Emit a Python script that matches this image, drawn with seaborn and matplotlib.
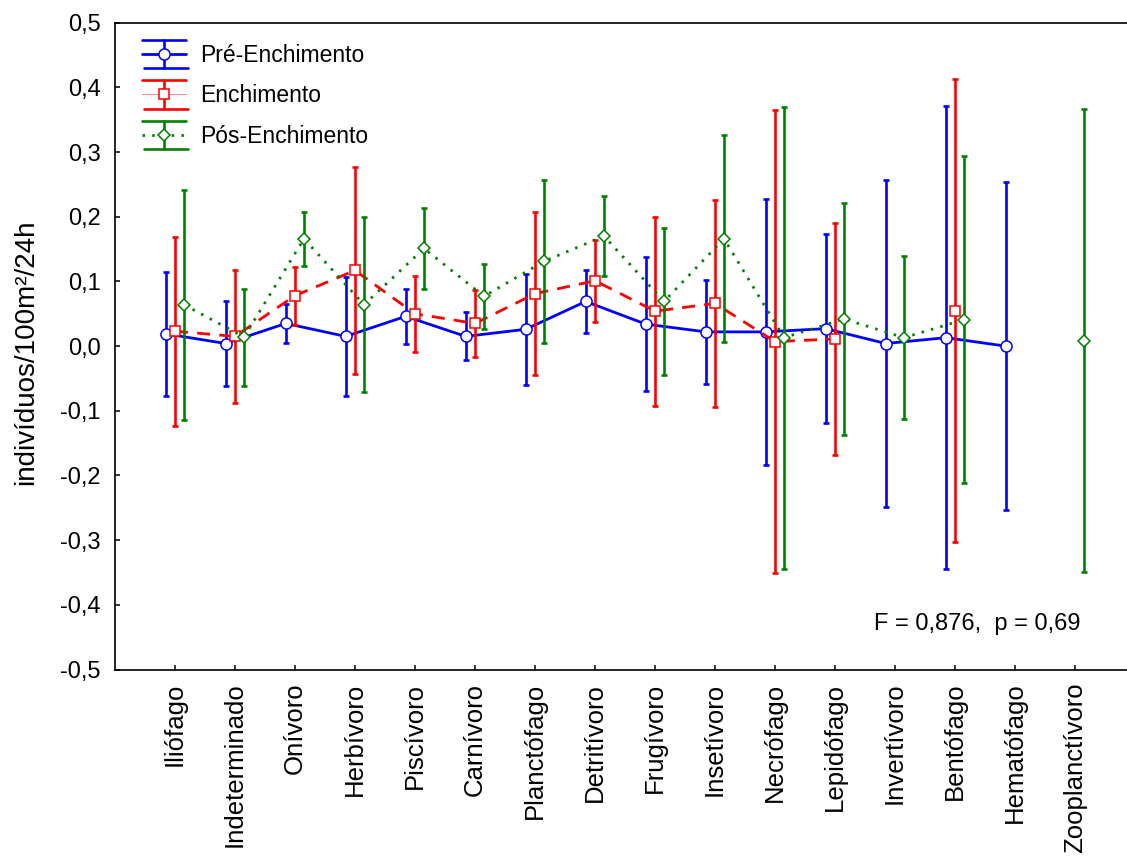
import numpy as np
import pandas as pd
import matplotlib
matplotlib.use("Agg")
import matplotlib.pyplot as plt
import seaborn as sns
from matplotlib.lines import Line2D
from matplotlib.legend_handler import HandlerBase
from matplotlib.ticker import FixedLocator, FixedFormatter

nan = np.nan

# Trophic guilds on the x axis
categories = ["Iliófago", "Indeterminado", "Onívoro", "Herbívoro", "Piscívoro",
              "Carnívoro", "Planctófago", "Detritívoro", "Frugívoro", "Insetívoro",
              "Necrófago", "Lepidófago", "Invertívoro", "Bentófago", "Hematófago",
              "Zooplanctívoro"]

series_names = ["Pré-Enchimento", "Enchimento", "Pós-Enchimento"]

# Mean capture (indivíduos/100m²/24h) and half-width of the confidence interval
pre_mean = [0.019, 0.004, 0.035, 0.015, 0.046, 0.015, 0.026, 0.069, 0.034, 0.022,
            0.022, 0.027, 0.004, 0.013, 0.000, nan]
pre_err = [0.096, 0.066, 0.030, 0.092, 0.043, 0.037, 0.086, 0.049, 0.103, 0.080,
           0.206, 0.146, 0.253, 0.358, 0.253, nan]

ench_mean = [0.023, 0.015, 0.078, 0.117, 0.050, 0.035, 0.081, 0.101, 0.054, 0.066,
             0.007, 0.011, nan, 0.055, nan, nan]
ench_err = [0.146, 0.103, 0.045, 0.160, 0.059, 0.052, 0.126, 0.063, 0.146, 0.160,
            0.358, 0.179, nan, 0.358, nan, nan]

pos_mean = [0.064, 0.014, 0.166, 0.064, 0.151, 0.077, 0.131, 0.170, 0.069, 0.166,
            0.013, 0.042, 0.013, 0.041, nan, 0.008]
pos_err = [0.178, 0.075, 0.042, 0.135, 0.062, 0.050, 0.126, 0.062, 0.113, 0.160,
           0.357, 0.179, 0.126, 0.253, nan, 0.358]

y_ticks = [-0.5, -0.4, -0.3, -0.2, -0.1, 0.0, 0.1, 0.2, 0.3, 0.4, 0.5]
y_tick_labels = ["-0,5", "-0,4", "-0,3", "-0,2", "-0,1", "0,0", "0,1", "0,2", "0,3", "0,4", "0,5"]
y_label = "indivíduos/100m²/24h"
stat_text = "F = 0,876,  p = 0,69"

# ---- long table, with a segment id that restarts the line after a gap
rows = []
for name, means, errs in zip(series_names,
                             [pre_mean, ench_mean, pos_mean],
                             [pre_err, ench_err, pos_err]):
    seg = 0
    for i, (m, e) in enumerate(zip(means, errs)):
        if np.isnan(m):
            seg += 1
        rows.append({"serie": name, "pos": i, "mean": m, "err": e, "seg": seg})
df = pd.DataFrame(rows)

# ---- styling
sns.set_style("ticks")
plt.rcParams["font.family"] = ["Liberation Sans", "DejaVu Sans"]
plt.rcParams["text.color"] = "black"
plt.rcParams["axes.labelcolor"] = "black"
plt.rcParams["xtick.color"] = "black"
plt.rcParams["ytick.color"] = "black"

styles = {
    "Pré-Enchimento": dict(color="#0000ff", offset=-0.155, ls="-", marker="o", ms=8.0, z=3),
    "Enchimento": dict(color="#ff0000", offset=0.0, ls=(0, (4.7, 3.3)), marker="s", ms=7.5, z=4),
    "Pós-Enchimento": dict(color="#008000", offset=0.15, ls=(0, (0.9, 2.6)), marker="D", ms=6.6, z=5),
}

fig = plt.figure(figsize=(11.27, 8.57), dpi=100)
ax = fig.add_axes([115 / 1127, 187.5 / 857, 1020 / 1127, 646.8 / 857])

for name in series_names:
    st = styles[name]
    sub = df[df["serie"] == name].copy()
    sub["xpos"] = sub["pos"] + st["offset"]
    ax.errorbar(sub["xpos"], sub["mean"], yerr=sub["err"], fmt="none",
                ecolor=st["color"], elinewidth=1.9, capsize=2.4, capthick=1.9,
                zorder=st["z"])
    valid = sub.dropna(subset=["mean"])
    sns.lineplot(data=valid, x="xpos", y="mean", units="seg", estimator=None,
                 ax=ax, color=st["color"], linestyle=st["ls"], linewidth=2.0,
                 marker=st["marker"], markersize=st["ms"],
                 markerfacecolor="white", markeredgecolor=st["color"],
                 markeredgewidth=1.1, legend=False, zorder=st["z"] + 0.5)

ax.set_xlim(-1, 16)
ax.set_ylim(-0.5, 0.5)
ax.xaxis.set_major_locator(FixedLocator(list(range(len(categories)))))
ax.xaxis.set_major_formatter(FixedFormatter(categories))
ax.yaxis.set_major_locator(FixedLocator(y_ticks))
ax.yaxis.set_major_formatter(FixedFormatter(y_tick_labels))
ax.tick_params(axis="x", direction="in", length=3.5, width=1.1, pad=9.5,
               labelsize=18.5, labelrotation=90, colors="black")
ax.tick_params(axis="y", direction="in", length=3.5, width=1.1, pad=10.5,
               labelsize=17, colors="black")
ax.set_xlabel("")
ax.set_ylabel(y_label, fontsize=20, color="black")
ax.yaxis.set_label_coords(-0.074, 0.49)

for side in ["left", "bottom", "top"]:
    ax.spines[side].set_linewidth(1.2)
    ax.spines[side].set_color("black")
ax.spines["right"].set_visible(False)

ax.text(0.744, 0.061, stat_text, transform=ax.transAxes, ha="left",
        va="baseline", fontsize=17, color="black")


class CapLegendHandler(HandlerBase):
    """Legend key drawn as an error bar with wide caps."""

    def create_artists(self, legend, orig_handle, xdescent, ydescent,
                       width, height, fontsize, trans):
        color = orig_handle.get_color()
        yc = height / 2 - ydescent
        x0 = -xdescent
        x1 = x0 + width
        xc = (x0 + x1) / 2
        half = 0.62 * fontsize
        arts = []
        arts.append(Line2D([x0, x1], [yc + half, yc + half], color=color, lw=1.9))
        arts.append(Line2D([x0 + 1.5, x1 + 1.5], [yc - half, yc - half], color=color, lw=1.9))
        arts.append(Line2D([xc, xc], [yc - half, yc + half], color=color, lw=1.9))
        mid_kw = orig_handle.mid_kw
        arts.append(Line2D([x0, x1], [yc, yc], color=color, **mid_kw))
        arts.append(Line2D([xc], [yc], linestyle="none", marker=orig_handle.get_marker(),
                           markersize=orig_handle.get_markersize(),
                           markerfacecolor="white", markeredgecolor=color,
                           markeredgewidth=1.1))
        for a in arts:
            a.set_transform(trans)
        return arts


handles = []
mid_styles = {
    "Pré-Enchimento": dict(lw=2.0, linestyle="-"),
    "Enchimento": dict(lw=0.8, linestyle="-", alpha=0.45),
    "Pós-Enchimento": dict(lw=2.0, linestyle=(0, (0.9, 2.6))),
}
for name in series_names:
    st = styles[name]
    h = Line2D([], [], color=st["color"], marker=st["marker"], markersize=st["ms"])
    h.mid_kw = mid_styles[name]
    handles.append(h)

leg = ax.legend(handles, series_names, handler_map={Line2D: CapLegendHandler()},
                loc="upper left", bbox_to_anchor=(0.0265, 0.967), borderaxespad=0,
                borderpad=0, frameon=False, fontsize=16.5, handlelength=1.9,
                handletextpad=0.65, labelspacing=0.76)
for t in leg.get_texts():
    t.set_color("black")

fig.savefig("out.png", dpi=100)
